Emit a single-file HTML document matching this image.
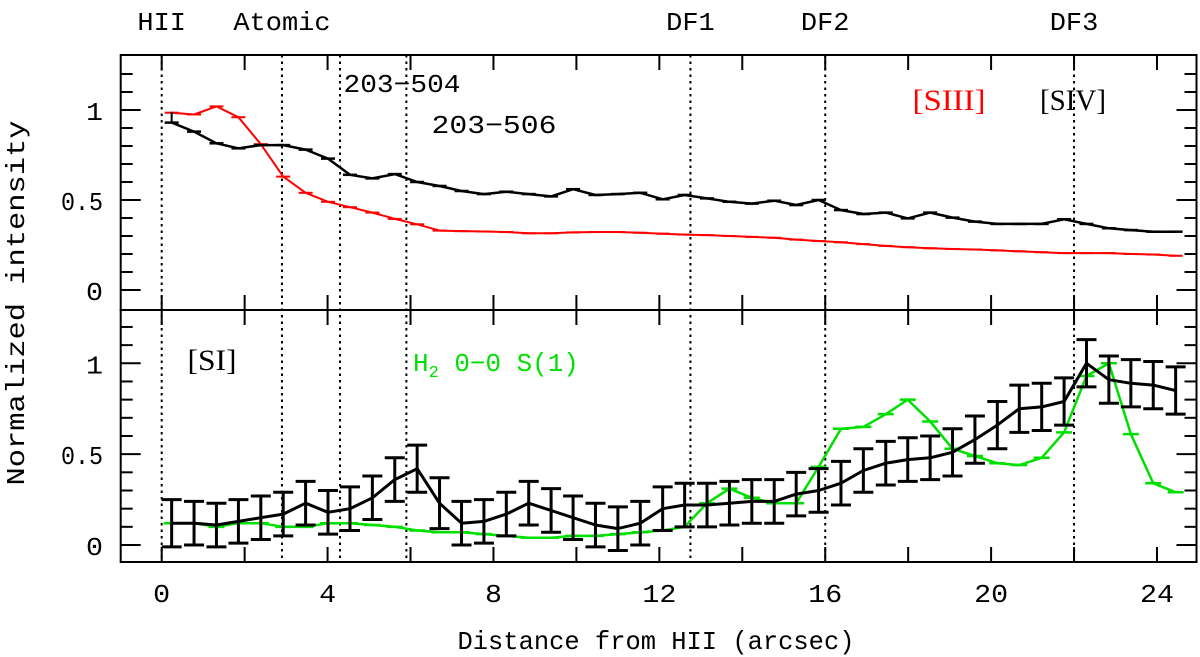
<!DOCTYPE html>
<html><head><meta charset="utf-8"><style>
html,body{margin:0;padding:0;background:#fff}
svg{display:block}
text{font-family:"Liberation Mono",monospace;fill:#000}
text.serif{font-family:"Liberation Serif",serif}
</style></head><body>
<svg id="chart" width="1200" height="657" viewBox="0 0 1200 657" xmlns="http://www.w3.org/2000/svg"></svg>
<script>
const distances = [0.24,0.78,1.32,1.85,2.39,2.93,3.47,4.01,4.54,5.08,5.62,6.16,6.70,7.23,7.77,8.31,8.85,9.39,9.92,10.46,11.00,11.54,12.08,12.61,13.15,13.69,14.23,14.77,15.30,15.84,16.38,16.92,17.46,17.99,18.53,19.07,19.61,20.15,20.68,21.22,21.76,22.30,22.84,23.37,23.91,24.45];
const siv = [0.93,0.88,0.815,0.787,0.805,0.805,0.78,0.73,0.64,0.62,0.644,0.60,0.578,0.55,0.533,0.546,0.533,0.52,0.56,0.528,0.533,0.54,0.504,0.528,0.509,0.49,0.48,0.496,0.472,0.50,0.444,0.422,0.43,0.398,0.43,0.402,0.38,0.367,0.367,0.367,0.393,0.367,0.343,0.333,0.324,0.324];
const siii = [0.985,0.975,1.02,0.96,0.81,0.63,0.54,0.49,0.46,0.43,0.395,0.365,0.33,0.327,0.325,0.322,0.315,0.315,0.32,0.322,0.322,0.318,0.313,0.308,0.305,0.30,0.295,0.29,0.28,0.272,0.265,0.255,0.245,0.238,0.232,0.228,0.225,0.22,0.215,0.21,0.205,0.205,0.205,0.20,0.197,0.19];
const si = [0.12,0.12,0.11,0.13,0.15,0.17,0.23,0.18,0.20,0.26,0.36,0.42,0.23,0.12,0.13,0.17,0.23,0.19,0.15,0.11,0.09,0.12,0.20,0.22,0.22,0.23,0.24,0.24,0.28,0.30,0.34,0.41,0.45,0.47,0.48,0.51,0.58,0.66,0.75,0.76,0.79,1.00,0.91,0.89,0.88,0.85];
const siErr = [0.13,0.12,0.12,0.12,0.12,0.12,0.12,0.12,0.12,0.12,0.12,0.13,0.14,0.12,0.12,0.12,0.12,0.12,0.12,0.12,0.12,0.12,0.12,0.12,0.12,0.12,0.12,0.12,0.12,0.12,0.12,0.12,0.12,0.12,0.12,0.13,0.13,0.13,0.13,0.13,0.13,0.13,0.13,0.13,0.13,0.13];
const h2 = [0.12,0.12,0.10,0.12,0.12,0.10,0.10,0.12,0.12,0.11,0.10,0.08,0.07,0.07,0.06,0.05,0.04,0.04,0.05,0.05,0.06,0.07,0.08,0.10,0.23,0.31,0.26,0.23,0.23,0.43,0.64,0.65,0.72,0.80,0.68,0.53,0.49,0.45,0.44,0.48,0.62,0.93,1.00,0.61,0.34,0.29];
const xTicks = [0,4,8,12,16,20,24];
const yTickLabels = [0,0.5,1];
const markerLines = [0,2.9,4.3,5.9,12.75,16,22];
const topLabels = [["HII",0],["Atomic",2.9],["DF1",12.75],["DF2",16],["DF3",22]];

const L=120.7,R=1196.5,T=55,M=310,B=562;
const X=v=>161.7+41.47*v;
const YT=v=>290-180*v;
const YB=v=>545-181.7*v;
const svg=document.getElementById('chart');
const NS='http://www.w3.org/2000/svg';
const CW=16.2;
function mk(tag,attrs,parent){const e=document.createElementNS(NS,tag);for(const k in attrs)e.setAttribute(k,attrs[k]);(parent||svg).appendChild(e);return e;}
function txt(s,x,y,size,anchor,fill,w){const t=mk('text',{x:x,y:y,'font-size':size,'text-anchor':anchor||'middle'});
  if(w){t.setAttribute('textLength',w);t.setAttribute('lengthAdjust','spacingAndGlyphs');}
  if(fill)t.setAttribute('style','fill:'+fill);t.textContent=s;return t;}

markerLines.forEach(v=>{
  const l=mk('line',{x1:X(v),x2:X(v),y1:T,y2:B,stroke:'#000','stroke-width':2,'stroke-dasharray':'2.5,4'});
  
  
});

[[T,M,'top-panel-frame'],[M,B,'bottom-panel-frame']].forEach(p=>{
  const r=mk('rect',{x:L,y:p[0],width:R-L,height:p[1]-p[0],fill:'none',stroke:'#000','stroke-width':2});
  
  
});

for(let v=0;v<=24;v+=2){
  [T,M].forEach(y=>mk('line',{x1:X(v),x2:X(v),y1:y,y2:y+15,stroke:'#000','stroke-width':2}));
  [M,B].forEach(y=>mk('line',{x1:X(v),x2:X(v),y1:y,y2:y-15,stroke:'#000','stroke-width':2}));
}
xTicks.forEach(v=>{
  const s=String(v);
  const t=txt(s,X(v),602,26,'middle',null,s.length*17);
  
  
});
for(let i=0;i<=12;i++){
  const v=i/10;const len=(i%5===0)?20:12;
  [[YT,T,M],[YB,M,B]].forEach(([f,a,b])=>{const y=f(v);if(y<a||y>b)return;
    mk('line',{x1:L,x2:L+len,y1:y,y2:y,stroke:'#000','stroke-width':2});
    mk('line',{x1:R,x2:R-len,y1:y,y2:y,stroke:'#000','stroke-width':2});});
}
yTickLabels.forEach(v=>{
  [YT,YB].forEach(f=>{const s=String(v);const t=txt(s,103,f(v)+10,26,'end',null,s==='0.5'?42:17);
    
    });
});

function series(vals,errs,yf,color,w,cap,name){
  const g=mk('g',{});
  
  
  const pts=vals.map((v,i)=>X(distances[i]).toFixed(1)+','+yf(v).toFixed(1)).join(' ');
  mk('polyline',{points:pts,fill:'none',stroke:color,'stroke-width':w,'stroke-linejoin':'round'},g);
  vals.forEach((v,i)=>{const x=X(distances[i]);const e=errs?errs[i]:0;
    if(e>0) mk('line',{x1:x,x2:x,y1:yf(v+e),y2:yf(v-e),stroke:color,'stroke-width':w},g);
    mk('line',{x1:x-cap,x2:x+cap,y1:yf(v+e),y2:yf(v+e),stroke:color,'stroke-width':w},g);
    if(e>0) mk('line',{x1:x-cap,x2:x+cap,y1:yf(v-e),y2:yf(v-e),stroke:color,'stroke-width':w},g);
  });
}
series(siii,null,YT,'#ff0000',2,7,'siii-series');
series(siv,null,YT,'#000',2.5,7,'siv-series');
mk('line',{x1:X(0.24),x2:X(0.24),y1:YT(0.93),y2:YT(0.99),stroke:'#000','stroke-width':2});
series(h2,null,YB,'#00e000',2.5,8,'h2-series');
series(si,siErr,YB,'#000',3,10,'si-series');

topLabels.forEach(([s,v])=>{const t=txt(s,X(v),30,26,'middle',null,s.length*CW);
  
  });
let t;
t=txt('203\u2212504',402,92,26,'middle',null,117);
t=txt('203\u2212506',494,133,26,'middle',null,125);
t=txt('[SIII]',949,110,30,'middle','#ff0000',73);t.setAttribute('class','serif');
t=txt('[SIV]',1073,110,30,'middle',null,66);t.setAttribute('class','serif');
t=txt('[SI]',212,370,30,'middle',null,49);t.setAttribute('class','serif');
t=mk('text',{x:413,y:371,'font-size':26,style:'fill:#00e000'});
t.innerHTML='H<tspan font-size="17" dy="6" style="fill:#00e000">2</tspan><tspan dy="-6" style="fill:#00e000" textLength="140" lengthAdjust="spacingAndGlyphs"> 0\u22120 S(1)</tspan>';

t=txt('Distance from HII (arcsec)',656,649,26,'middle',null,397);
t=txt('Normalized intensity',0,0,26,'middle',null,365);t.setAttribute('transform','translate(24,303) rotate(-90)');

</script>
</body></html>
